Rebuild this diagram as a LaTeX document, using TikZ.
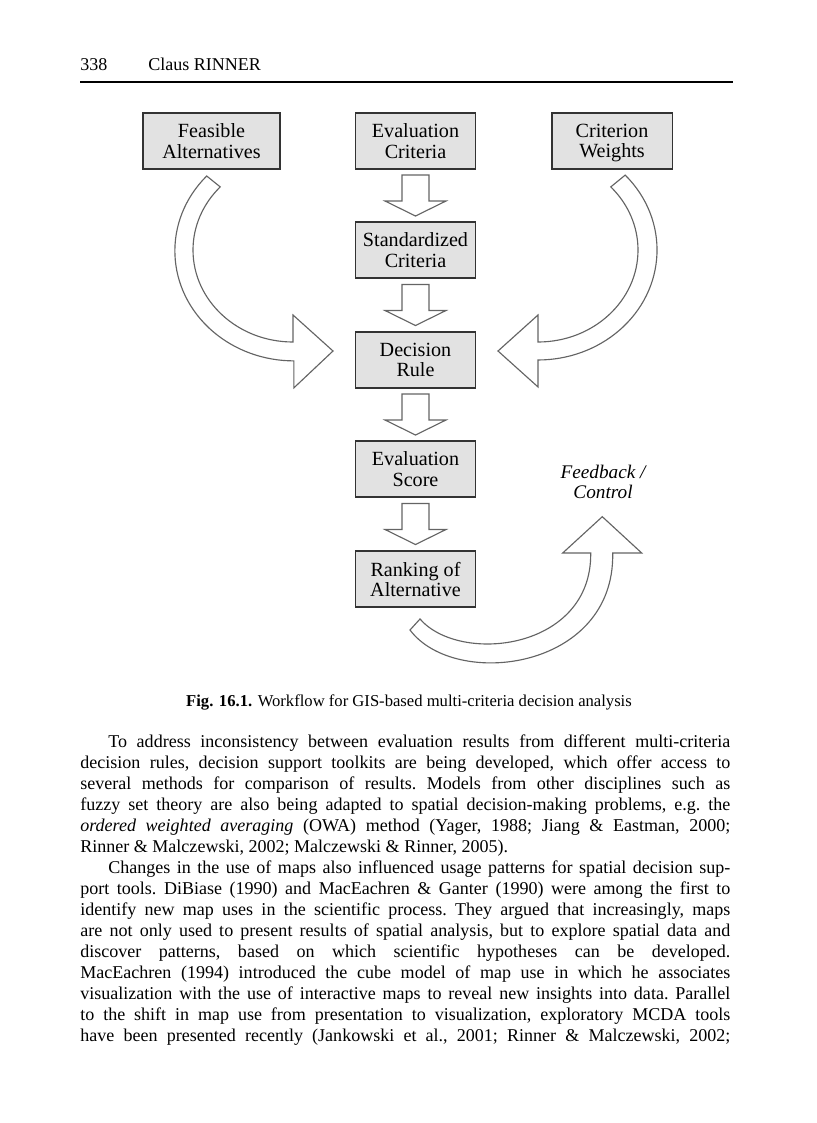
\documentclass[tikz,border=0pt]{standalone}
\usepackage{fontspec}
\setmainfont{Liberation Serif}
\usetikzlibrary{calc}
\definecolor{boxgray}{RGB}{226,226,226}
\definecolor{linegray}{RGB}{100,100,100}
\newcommand{\jline}[1]{\hbox to 371.4pt{\strut#1}}
\begin{document}
\begin{tikzpicture}[x=0.5714pt, y=-0.5714pt,
  box/.style = {draw=black!80, fill=boxgray, line width=0.6pt, align=center,
    minimum width=69.1pt, minimum height=32pt, inner sep=1pt, text depth=0pt,
    font=\fontsize{11.5}{11.5}\selectfont},
  hollow/.style = {draw=linegray, fill=white, line width=0.65pt, line join=miter}]
\useasboundingbox (0,0) rectangle (816,1123);
% running head
\node[anchor=base west, inner sep=0, font=\fontsize{10.3}{12}\selectfont] (page) at (80,70) {338};
\node[anchor=base west, inner sep=0, font=\fontsize{10.3}{12}\selectfont] (auth) at (148,70) {Claus RINNER};
\draw[line width=1.1pt] (80,82) -- (733,82);
% boxes
\node[box, minimum width=78.3pt] (feas) at (211.5,141) {Feasible\\Alternatives};
\node[box] (eval) at (415.5,141) {Evaluation\\Criteria};
\node[box, minimum width=68.6pt] (wght) at (612,141) {Criterion\\Weights};
\node[box] (std) at (415.5,250) {Standardized\\Criteria};
\node[box] (rule) at (415.5,360) {Decision\\Rule};
\node[box] (score) at (415.5,469) {Evaluation\\Score};
\node[box] (rank) at (415.5,579) {Ranking of\\Alternative};
\node[align=center, font=\fontsize{11}{11.5}\selectfont\itshape] (fb) at (603,482) {Feedback /\\Control};
% straight block arrows
\draw[hollow] ($(eval.south)!.5!(std.north)$) ++(-13.5,-20.5) -- ++(0,26) -- ++(-17,0) -- ++(30.5,15) -- ++(30.5,-15) -- ++(-17,0) -- ++(0,-26) -- cycle;
\draw[hollow] ($(std.south)!.5!(rule.north)$) ++(-13.5,-20.5) -- ++(0,26) -- ++(-17,0) -- ++(30.5,15) -- ++(30.5,-15) -- ++(-17,0) -- ++(0,-26) -- cycle;
\draw[hollow] ($(rule.south)!.5!(score.north)$) ++(-13.5,-20.5) -- ++(0,26) -- ++(-17,0) -- ++(30.5,15) -- ++(30.5,-15) -- ++(-17,0) -- ++(0,-26) -- cycle;
\draw[hollow] ($(score.south)!.5!(rank.north)$) ++(-13.5,-20.5) -- ++(0,26) -- ++(-17,0) -- ++(30.5,15) -- ++(30.5,-15) -- ++(-17,0) -- ++(0,-26) -- cycle;
% curved block arrows
\draw[hollow] (206.7,176) arc[start angle=222.9, end angle=90, x radius=119, y radius=110] -- ++(0,27) -- (333,351) -- (293,315) -- (293,342) arc[start angle=90, end angle=223.3, x radius=100, y radius=92] -- cycle;
\draw[hollow] (625.2,175.1) arc[start angle=-42.9, end angle=90, x radius=119, y radius=110] -- ++(0,27) -- (498,351) -- (538,315) -- (538,342) arc[start angle=90, end angle=-43.3, x radius=100, y radius=92] -- cycle;
\draw[hollow] (410,630) .. controls (455,690) and (615,670) .. (612.7,553) -- (641.7,553) -- (602.3,516.7) -- (562.7,553) -- (590.7,553) .. controls (592,650) and (460,665) .. (420,619) -- cycle;
% caption
\node[anchor=base, font=\fontsize{9.5}{11}\selectfont] (cap) at (409,706) {\textbf{Fig. 16.1.} Workflow for GIS-based multi-criteria decision analysis};
% body text
\node[anchor=north west, inner sep=0, font=\fontsize{10.3}{12}\selectfont\frenchspacing] (body) at (80,732.3) {\vbox{%
\jline{\hspace*{16pt}To address inconsistency between evaluation results from different multi-criteria}
\jline{decision rules, decision support toolkits are being developed, which offer access to}
\jline{several methods for comparison of results. Models from other disciplines such as}
\jline{fuzzy set theory are also being adapted to spatial decision-making problems, e.g. the}
\jline{\textit{ordered weighted averaging} (OWA) method (Yager, 1988; Jiang \& Eastman, 2000;}
\hbox{\strut Rinner \& Malczewski, 2002; Malczewski \& Rinner, 2005).}
\jline{\hspace*{16pt}Changes in the use of maps also influenced usage patterns for spatial decision sup-}
\jline{port tools. DiBiase (1990) and MacEachren \& Ganter (1990) were among the first to}
\jline{identify new map uses in the scientific process. They argued that increasingly, maps}
\jline{are not only used to present results of spatial analysis, but to explore spatial data and}
\jline{discover patterns, based on which scientific hypotheses can be developed.}
\jline{MacEachren (1994) introduced the cube model of map use in which he associates}
\jline{visualization with the use of interactive maps to reveal new insights into data. Parallel}
\jline{to the shift in map use from presentation to visualization, exploratory MCDA tools}
\jline{have been presented recently (Jankowski et al., 2001; Rinner \& Malczewski, 2002;}}};
\end{tikzpicture}
\end{document}
